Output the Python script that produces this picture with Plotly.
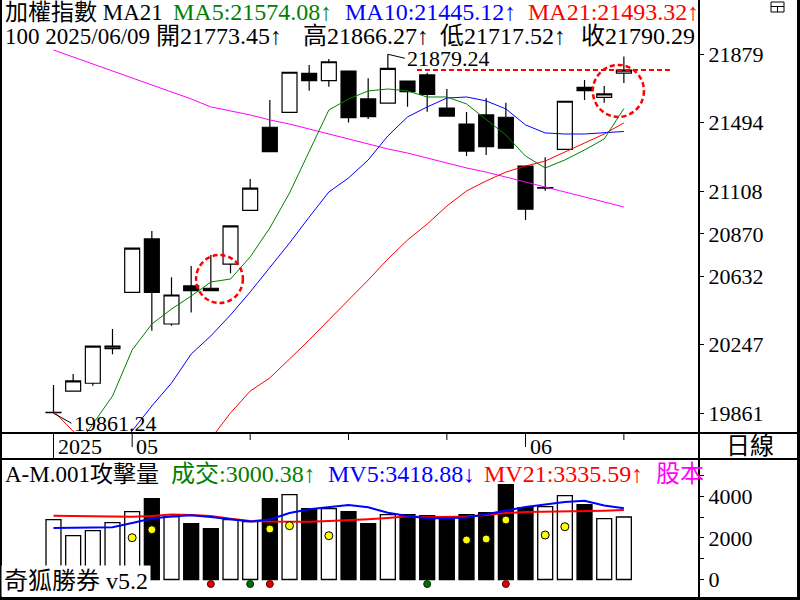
import plotly.graph_objects as go

W, H = 800, 600
FONT = "Liberation Serif, Noto Sans CJK TC, serif"
FS = 22
FS_HEAD = 24
FS_HEAD_S = 23

# ---------------- data ----------------
index_name = "加權指數"
bar_count = "100"
last_date = "2025/06/09"

open_ = [19864, 19986, 20030, 20224, 20541, 20841, 20363, 20577, 20564, 20700,
         21002, 21469, 21553, 21772, 21731, 21785, 21628, 21604, 21729, 21763,
         21577, 21487, 21538, 21525, 21251, 21127, 21345, 21693, 21637, 21773.45]
high = [20020, 20082, 20241, 20335, 20791, 20886, 20626, 20689, 20751, 20916,
        21178, 21622, 21780, 21819, 21853, 21787, 21744, 21879.24, 21731, 21775,
        21684, 21555, 21632, 21607, 21253, 21300, 21617, 21734, 21701, 21866.27]
low = [19861.24, 19984, 20016, 20193, 20539, 20325, 20353, 20427, 20548, 20648,
       21000, 21330, 21551, 21674, 21697, 21495, 21515, 21602, 21584, 21556,
       21530, 21307, 21313, 21349, 20948, 21112, 21343, 21622, 21607, 21717.52]
close = [19866, 20043, 20239, 20239, 20789, 20541, 20526, 20550, 20550, 20914,
         21127, 21332, 21778, 21731, 21837, 21523, 21528, 21800, 21669, 21654,
         21532, 21335, 21360, 21351, 21008, 21129, 21615, 21674, 21656, 21790.29]

ma5 = [19514, 19644, 19801, 19958, 20217, 20363, 20447, 20520, 20599, 20616,
       20740, 20903, 21099, 21335, 21566, 21628, 21673, 21684, 21673, 21639,
       21639, 21600, 21515, 21425, 21307, 21240, 21285, 21341, 21403, 21574.08]
ma10 = [19205, 19346, 19486, 19627, 19762, 19902, 20031, 20194, 20296, 20414,
        20543, 20678, 20818, 20964, 21105, 21184, 21285, 21420, 21527, 21583,
        21633, 21639, 21617, 21572, 21482, 21437, 21431, 21431, 21437, 21445.12]
ma21 = [19874, 19760, 19660, 19590, 19540, 19520, 19530, 19580, 19718, 19863,
        19986, 20060, 20166, 20273, 20386, 20498, 20610, 20728, 20835, 20925,
        21026, 21111, 21167, 21217, 21251, 21279, 21330, 21380, 21431, 21493.32]
ma_long = [21903, 21864, 21824, 21785, 21746, 21706, 21667, 21628, 21583, 21560,
           21538, 21510, 21487, 21459, 21431, 21403, 21375, 21347, 21324, 21296,
           21268, 21240, 21217, 21189, 21161, 21133, 21105, 21077, 21049, 21021]

volume = [2878, 2110, 2350, 2734, 3261, 3885, 3020, 2686, 2446, 2878,
          2782, 3885, 4077, 3405, 3405, 3261, 2686, 3117, 3117, 3070,
          2974, 3117, 3213, 4556, 3453, 3501, 4029, 3597, 2926, 3000.38]
mv5 = [2472, 2482, 2491, 2506, 2712, 2928, 3024, 3082, 3000, 2880,
       2784, 2880, 3192, 3370, 3490, 3576, 3466, 3202, 3048, 2938,
       2938, 2976, 3130, 3312, 3480, 3600, 3720, 3778, 3552, 3418.88]
mv21 = [3062, 3048, 3034, 3014, 3014, 3048, 3120, 3096, 3048, 2918,
        2808, 2779, 2774, 2774, 2808, 2832, 2890, 2952, 3034, 2986,
        3000, 3024, 3096, 3192, 3240, 3254, 3254, 3254, 3302, 3335.59]

yellow_idx = [4, 5, 11, 12, 14, 21, 22, 23, 25, 26]
yellow_val = [2006, 2390, 2424, 2582, 2102, 1896, 1944, 2856, 2136, 2534]
red_sig_idx = [8, 11, 23]
green_sig_idx = [10, 19]
sig_level = -216

price_ticks = [21879, 21494, 21108, 20870, 20632, 20247, 19861]
vol_ticks = [0, 2000, 4000]
vol_minor = [1000, 3000, 5000]
date_tick_idx = [0, 4, 10, 15, 20, 24, 29]
date_tick_text = ["2025", "05", "", "", "", "06", ""]

# ---------------- helpers ----------------
def px(x):
    return x / W

def py(y):
    return 1 - y / H

n = len(close)
idx = list(range(n))
x_range = [-2.72, 32.82]
xdom = [0, 699 / W]

GREEN = "#008000"
BLUE = "#0000ff"
RED = "#ff0000"
MAG = "#ff00ff"

fig = go.Figure()

# main panel
fig.add_trace(go.Scatter(x=idx, y=ma_long, mode="lines", line=dict(color=MAG, width=1),
                         xaxis="x", yaxis="y", hoverinfo="skip"))
fig.add_trace(go.Scatter(x=idx, y=ma21, mode="lines", line=dict(color=RED, width=1),
                         xaxis="x", yaxis="y", hoverinfo="skip"))
fig.add_trace(go.Scatter(x=idx, y=ma10, mode="lines", line=dict(color=BLUE, width=1),
                         xaxis="x", yaxis="y", hoverinfo="skip"))
fig.add_trace(go.Scatter(x=idx, y=ma5, mode="lines", line=dict(color=GREEN, width=1),
                         xaxis="x", yaxis="y", hoverinfo="skip"))
fig.add_trace(go.Candlestick(
    x=idx, open=open_, high=high, low=low, close=close,
    increasing=dict(fillcolor="white", line=dict(color="black", width=1.2)),
    decreasing=dict(fillcolor="black", line=dict(color="black", width=1.2)),
    whiskerwidth=0, xaxis="x", yaxis="y", hoverinfo="skip"))

# volume panel
bar_colors = ["white" if c >= o else "black" for o, c in zip(open_, close)]
fig.add_trace(go.Bar(x=idx, y=volume, width=0.76,
                     marker=dict(color=bar_colors, line=dict(color="black", width=1.3)),
                     xaxis="x2", yaxis="y2", hoverinfo="skip"))
fig.add_trace(go.Scatter(x=idx, y=mv21, mode="lines", line=dict(color=RED, width=2),
                         xaxis="x2", yaxis="y2", hoverinfo="skip"))
fig.add_trace(go.Scatter(x=idx, y=mv5, mode="lines", line=dict(color=BLUE, width=2),
                         xaxis="x2", yaxis="y2", hoverinfo="skip"))
fig.add_trace(go.Scatter(x=yellow_idx, y=yellow_val, mode="markers",
                         marker=dict(color="#ffff00", size=8, line=dict(color="black", width=1)),
                         xaxis="x2", yaxis="y2", hoverinfo="skip", cliponaxis=False))
fig.add_trace(go.Scatter(x=red_sig_idx, y=[sig_level] * len(red_sig_idx), mode="markers",
                         marker=dict(color="#e00000", size=7, line=dict(color="#600000", width=1)),
                         xaxis="x2", yaxis="y2", hoverinfo="skip", cliponaxis=False))
fig.add_trace(go.Scatter(x=green_sig_idx, y=[sig_level] * len(green_sig_idx), mode="markers",
                         marker=dict(color="#007000", size=7, line=dict(color="#003000", width=1)),
                         xaxis="x2", yaxis="y2", hoverinfo="skip", cliponaxis=False))

tickfont = dict(family=FONT, size=FS, color="black")
fig.update_layout(
    width=W, height=H, margin=dict(l=0, r=0, t=0, b=0),
    paper_bgcolor="white", plot_bgcolor="white", showlegend=False,
    boxgap=0.05, boxgroupgap=0.2,
    xaxis=dict(domain=xdom, range=x_range, visible=False, anchor="y",
               rangeslider=dict(visible=False)),
    yaxis=dict(domain=[1 - 432 / H, 1], range=[19755.9, 22184.2], side="right", anchor="x",
               tickmode="array", tickvals=price_ticks, ticktext=[str(v) for v in price_ticks],
               ticks="outside", ticklen=4, tickwidth=1, tickcolor="black", tickfont=tickfont,
               showgrid=False, zeroline=False, showline=False),
    xaxis2=dict(domain=xdom, range=x_range, visible=False, anchor="y2"),
    yaxis2=dict(domain=[1 - 597 / H, 1 - 460 / H], range=[-840, 5736], side="right", anchor="x2",
                tickmode="array", tickvals=vol_ticks, ticktext=[str(v) for v in vol_ticks],
                ticks="outside", ticklen=4, tickwidth=1, tickcolor="black", tickfont=tickfont,
                minor=dict(tickvals=vol_minor, ticks="outside", ticklen=4, tickcolor="black"),
                showgrid=False, zeroline=False, showline=False),
)

shapes = []
# frame / dividers (left, right, bottom borders; no top border)
shapes.append(dict(type="line", xref="paper", yref="paper", x0=px(1), x1=px(1), y0=0, y1=1,
                   line=dict(color="black", width=2)))
shapes.append(dict(type="line", xref="paper", yref="paper", x0=px(798.5), x1=px(798.5), y0=0, y1=1,
                   line=dict(color="black", width=3)))
shapes.append(dict(type="line", xref="paper", yref="paper", x0=0, x1=1, y0=py(598.5), y1=py(598.5),
                   line=dict(color="black", width=3)))
shapes.append(dict(type="line", xref="paper", yref="paper", x0=px(699), x1=px(699), y0=0, y1=1,
                   line=dict(color="black", width=2)))
for yy in (433, 459):
    shapes.append(dict(type="line", xref="paper", yref="paper", x0=0, x1=1, y0=py(yy), y1=py(yy),
                       line=dict(color="black", width=2)))
# date ticks
for k, (i, t) in enumerate(zip(date_tick_idx, date_tick_text)):
    bottom = 459 if k == 0 else (447 if t else 440)
    shapes.append(dict(type="line", xref="x", yref="paper", x0=i, x1=i, y0=py(433), y1=py(bottom),
                       line=dict(color="black", width=1)))
# top-right window icon
shapes.append(dict(type="rect", xref="paper", yref="paper", x0=px(771), x1=px(784), y0=py(12), y1=py(2),
                   line=dict(color="black", width=1)))
shapes.append(dict(type="line", xref="paper", yref="paper", x0=px(771), x1=px(784), y0=py(6.5), y1=py(6.5),
                   line=dict(color="black", width=1)))
shapes.append(dict(type="line", xref="paper", yref="paper", x0=px(777.5), x1=px(777.5), y0=py(6.5), y1=py(12),
                   line=dict(color="black", width=1)))
# red dashed level line at last close
shapes.append(dict(type="line", xref="x", yref="y", x0=18.48, x1=31.34, y0=close[-1], y1=close[-1],
                   line=dict(color=RED, width=2, dash="5px,3px")))
# dashed highlight circles
shapes.append(dict(type="circle", xref="x", yref="y", x0=7.25, x1=9.63, y0=20481, y1=20751,
                   line=dict(color=RED, width=2.5, dash="5px,3px")))
shapes.append(dict(type="circle", xref="x", yref="y", x0=27.42, x1=30.02, y0=21527, y1=21819,
                   line=dict(color=RED, width=2.5, dash="5px,3px")))
fig.update_layout(shapes=shapes)


def arrow(cur, prev):
    return "↑" if cur >= prev else "↓"


def label(x, y, text, color="black", xanchor="left", size=FS_HEAD, **kw):
    fig.add_annotation(x=px(x), y=py(y), xref="paper", yref="paper", text=text, showarrow=False,
                       xanchor=xanchor, yanchor="middle", font=dict(family=FONT, size=size, color=color),
                       **kw)

# header line 1
label(3, 12, f"{index_name} MA21", size=FS_HEAD_S)
label(171, 12, f"MA5:{ma5[-1]:.2f}{arrow(ma5[-1], ma5[-2])}", GREEN)
label(343, 12, f"MA10:{ma10[-1]:.2f}{arrow(ma10[-1], ma10[-2])}", BLUE)
label(526, 12, f"MA21:{ma21[-1]:.2f}{arrow(ma21[-1], ma21[-2])}", RED)
# header line 2
label(3, 36, f"{bar_count} {last_date}", size=FS_HEAD_S)
label(154, 36, f"開{open_[-1]:.2f}{arrow(open_[-1], open_[-2])}")
label(301, 36, f"高{high[-1]:.2f}{arrow(high[-1], high[-2])}")
label(438, 36, f"低{low[-1]:.2f}{arrow(low[-1], low[-2])}")
label(579, 36, f"收{close[-1]:.2f}")

# volume header
label(3, 474, "A-M.001攻擊量", size=FS_HEAD_S)
label(169, 474, f"成交:{volume[-1]:.2f}{arrow(volume[-1], volume[-2])}", GREEN)
label(326, 474, f"MV5:{mv5[-1]:.2f}{arrow(mv5[-1], mv5[-2])}", BLUE)
label(482, 474, f"MV21:{mv21[-1]:.2f}{arrow(mv21[-1], mv21[-2])}", RED)
label(654, 474, "股本", MAG)

# date labels
for i, t in zip(date_tick_idx, date_tick_text):
    if t:
        fig.add_annotation(x=i, y=py(446), xref="x", yref="paper", text=t, showarrow=False,
                           xanchor="left", yanchor="middle", xshift=2,
                           font=dict(family=FONT, size=FS, color="black"))
label(750, 446, "日線", xanchor="center")

# watermark
fig.add_annotation(x=px(1), y=py(597), xref="paper", yref="paper", text="奇狐勝券 v5.2", showarrow=False,
                   xanchor="left", yanchor="bottom", bgcolor="white", borderpad=2,
                   font=dict(family=FONT, size=FS_HEAD, color="black"))

# extreme labels
imax = high.index(max(high))
imin = low.index(min(low))
fig.add_annotation(x=imax, y=high[imax], xref="x", yref="y", text=f"{high[imax]:.2f}",
                   showarrow=True, arrowhead=0, arrowwidth=1, arrowcolor="black", ax=17, ay=4,
                   xanchor="left", yanchor="middle", font=dict(family=FONT, size=FS, color="black"))
fig.add_annotation(x=imin, y=low[imin], xref="x", yref="y", text=f"{low[imin]:.2f}",
                   showarrow=True, arrowhead=0, arrowwidth=1, arrowcolor="black", ax=18, ay=10,
                   xanchor="left", yanchor="middle", font=dict(family=FONT, size=FS, color="black"))

fig.write_html("out.html")
